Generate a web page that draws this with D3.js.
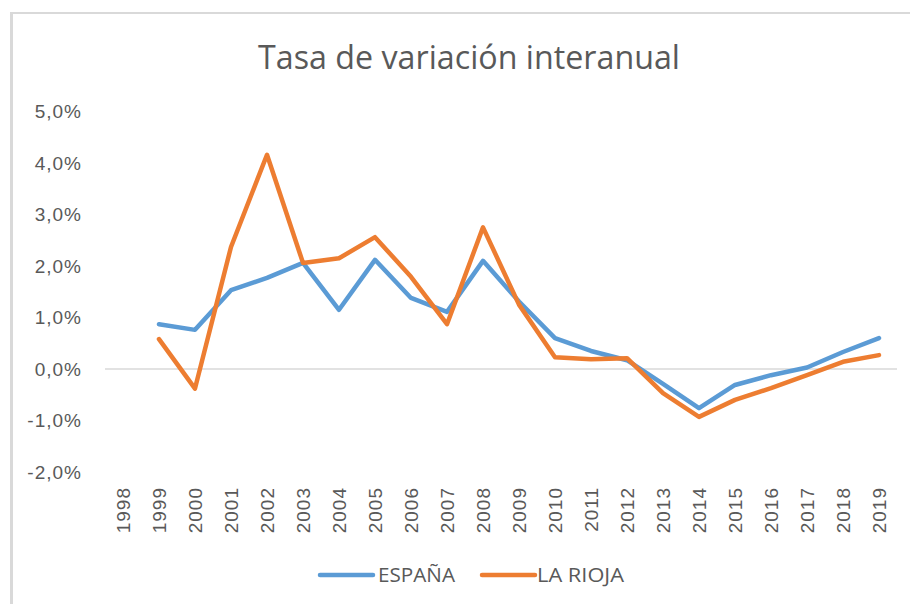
<!DOCTYPE html>
<html>
<head>
<meta charset="utf-8">
<script src="https://cdn.jsdelivr.net/npm/d3@7"></script>
<style>
  body { margin: 0; background: #fff; }
  text { fill: #595959; }
</style>
</head>
<body>
<div id="chart"></div>
<script>
// years on the category axis
var years = ["1998", "1999", "2000", "2001", "2002", "2003", "2004", "2005", "2006", "2007", "2008",
  "2009", "2010", "2011", "2012", "2013", "2014", "2015", "2016", "2017", "2018", "2019"];

// tasa de variación (%) - 1998 has no value
var espana = [null, 0.87, 0.76, 1.53, 1.77, 2.06, 1.15, 2.12, 1.38, 1.11, 2.10,
  1.31, 0.60, 0.35, 0.17, -0.29, -0.76, -0.31, -0.12, 0.03, 0.33, 0.60];
var rioja = [null, 0.58, -0.38, 2.37, 4.16, 2.06, 2.15, 2.56, 1.79, 0.87, 2.75,
  1.25, 0.23, 0.19, 0.21, -0.47, -0.93, -0.60, -0.37, -0.12, 0.14, 0.27];

var yTicks = [-2, -1, 0, 1, 2, 3, 4, 5];
var seriesNames = ["ESPAÑA", "LA RIOJA"];
var colors = ["#5b9bd5", "#ed7d31"];

var svgWidth = 910;
var svgHeight = 604;

// plot area
var plot = { left: 105, right: 897, top: 111.5, bottom: 472 };

var svg = d3.select("#chart")
  .append("svg")
  .attr("width", svgWidth)
  .attr("height", svgHeight);

// chart frame (only top and left show)
svg.append("line")
  .attr("x1", 11.5).attr("x2", 11.5)
  .attr("y1", 12).attr("y2", svgHeight)
  .attr("stroke", "#d9d9d9").attr("stroke-width", 3);
svg.append("line")
  .attr("x1", 10).attr("x2", svgWidth)
  .attr("y1", 13).attr("y2", 13)
  .attr("stroke", "#d9d9d9").attr("stroke-width", 2);

// title
svg.append("text")
  .attr("x", 258)
  .attr("y", 69)
  .attr("textLength", 422)
  .attr("lengthAdjust", "spacingAndGlyphs")
  .style("font-family", "'Open Sans', sans-serif")
  .style("font-size", "32px")
  .text("Tasa de variación interanual");

// scales
var xScale = d3.scaleBand()
  .domain(years)
  .range([plot.left, plot.right]);

var yScale = d3.scaleLinear()
  .domain([-2, 5])
  .range([plot.bottom, plot.top]);

var fmt = function (d) { return d3.format(".1f")(d).replace(".", ",").replace("−", "-") + "%"; };

// y axis labels
var yAxis = svg.append("g")
  .attr("transform", `translate(${plot.left}, 0)`)
  .call(d3.axisLeft(yScale).tickValues(yTicks).tickSize(0).tickPadding(23).tickFormat(fmt));
yAxis.select(".domain").remove();
yAxis.selectAll("text")
  .style("font-family", "'Liberation Sans', Arial, sans-serif")
  .style("font-size", "19px")
  .style("letter-spacing", "1px")
  .attr("fill", "#595959");

// zero line
svg.append("line")
  .attr("x1", plot.left).attr("x2", plot.right)
  .attr("y1", yScale(0)).attr("y2", yScale(0))
  .attr("stroke", "#d9d9d9").attr("stroke-width", 1.5);

// x axis labels (low position, rotated)
var xAxis = svg.append("g")
  .attr("transform", `translate(0, ${plot.bottom})`)
  .call(d3.axisBottom(xScale).tickSize(0));
xAxis.select(".domain").remove();
xAxis.selectAll("text")
  .attr("transform", "rotate(-90)")
  .attr("text-anchor", "end")
  .attr("x", -15)
  .attr("y", 0)
  .attr("dy", "0.35em")
  .attr("fill", "#595959")
  .style("font-family", "'Liberation Sans', Arial, sans-serif")
  .style("font-size", "19px")
  .style("letter-spacing", "1px");

// lines
var line = d3.line()
  .defined((d) => d.v !== null)
  .x((d) => xScale(d.year) + xScale.bandwidth() / 2)
  .y((d) => yScale(d.v));

[espana, rioja].forEach(function (vals, i) {
  var pts = years.map((y, j) => ({ year: y, v: vals[j] }));
  svg.append("path")
    .datum(pts)
    .attr("d", line)
    .attr("fill", "none")
    .attr("stroke", colors[i])
    .attr("stroke-width", 4.5)
    .attr("stroke-linejoin", "round")
    .attr("stroke-linecap", "round");
});

// legend
var legendItems = [
  { x: 320, tx: 378, len: 77 },
  { x: 482, tx: 537, len: 87 }
];
legendItems.forEach(function (it, i) {
  svg.append("line")
    .attr("x1", it.x).attr("x2", it.x + 53)
    .attr("y1", 575).attr("y2", 575)
    .attr("stroke", colors[i])
    .attr("stroke-width", 4.5)
    .attr("stroke-linecap", "round");
  svg.append("text")
    .attr("x", it.tx)
    .attr("y", 582)
    .attr("textLength", it.len)
    .attr("lengthAdjust", "spacingAndGlyphs")
    .style("font-family", "'Open Sans', sans-serif")
    .style("font-size", "20px")
    .text(seriesNames[i]);
});
</script>
</body>
</html>
